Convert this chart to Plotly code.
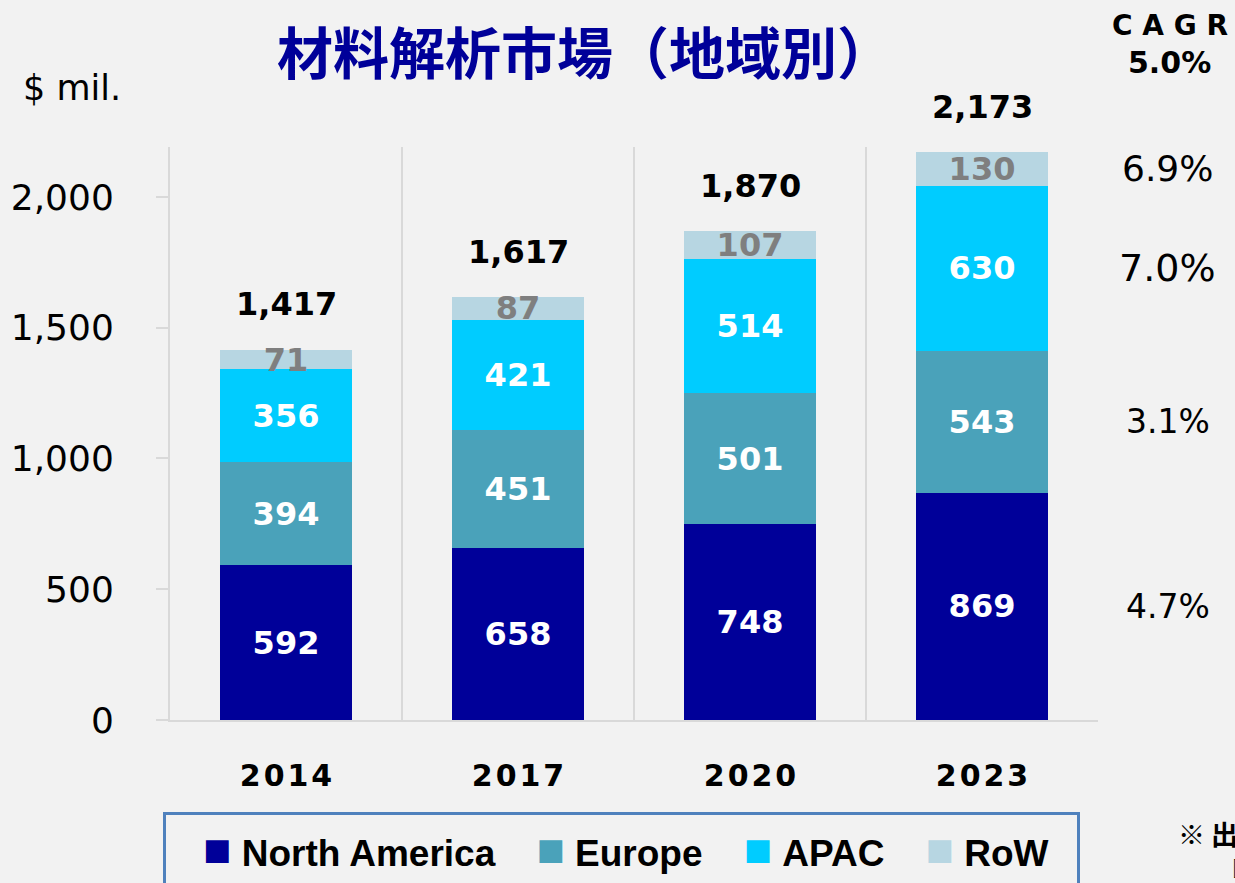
import plotly.graph_objects as go

# ---------------- data ----------------
years = ["2014", "2017", "2020", "2023"]
north_america = [592, 658, 748, 869]
europe = [394, 451, 501, 543]
apac = [356, 421, 514, 630]
row_vals = [71, 87, 107, 130]
totals = [1417, 1617, 1870, 2173]
series_names = ["North America", "Europe", "APAC", "RoW"]
cagr_by_region = ["4.7%", "3.1%", "7.0%", "6.9%"]
cagr_total = "5.0%"
y_tick_vals = [0, 500, 1000, 1500, 2000]

# ---------------- styles ----------------
series_values = [north_america, europe, apac, row_vals]
colors = ["#000099", "#4AA2BA", "#00CCFF", "#B7D6E2"]
label_colors = ["white", "white", "white", "#7F7F7F"]
cagr_sizes = [33, 33, 38, 36]
BG = "#F2F2F2"
GRID = "#D9D9D9"
NUM_FONT = "DejaVu Sans"

fig = go.Figure()
for name, vals, col, lc in zip(series_names, series_values, colors, label_colors):
    fig.add_trace(go.Bar(
        name=name, x=years, y=vals, marker=dict(color=col, line=dict(width=0)),
        text=[f"{v:,}" for v in vals], textposition="inside",
        insidetextanchor="middle", textangle=0, constraintext="none",
        textfont=dict(family=NUM_FONT, size=32, color=lc, weight="bold"),
        showlegend=False, hoverinfo="skip",
    ))

annotations = []
# totals above bars
for i, t in enumerate(totals):
    annotations.append(dict(
        x=i, y=t, xref="x", yref="y", text=f"<b>{t:,}</b>", showarrow=False,
        yanchor="middle", yshift=45,
        font=dict(family=NUM_FONT, size=32, color="black"),
    ))

# CAGR per region, aligned with 2023 segments
cum = 0
for vals, c, sz in zip(series_values, cagr_by_region, cagr_sizes):
    v = vals[-1]
    annotations.append(dict(
        x=1.0754, xref="paper", y=cum + v / 2, yref="y", text=c, showarrow=False,
        xanchor="center", yanchor="middle",
        font=dict(family=NUM_FONT, size=sz, color="black"),
    ))
    cum += v

annotations += [
    dict(x=1.0776, y=1.2129, xref="paper", yref="paper", text="<b>C A G R</b>",
         showarrow=False, xanchor="center", yanchor="middle",
         font=dict(family=NUM_FONT, size=28, color="black")),
    dict(x=1.0766, y=1.1466, xref="paper", yref="paper", text=f"<b>{cagr_total}</b>",
         showarrow=False, xanchor="center", yanchor="middle",
         font=dict(family=NUM_FONT, size=30, color="black")),
    dict(x=(72 - 170) / 928, y=1.103, xref="paper", yref="paper", text="$ mil.",
         showarrow=False, xanchor="center", yanchor="middle",
         font=dict(family=NUM_FONT, size=35, color="black")),
    dict(x=(1176 - 170) / 928, y=(720 - 833) / 573, xref="paper", yref="paper",
         text="※ <b>出典：</b>", showarrow=False, xanchor="left", yanchor="middle",
         font=dict(family="Noto Sans CJK JP", size=27, color="black")),
    dict(x=(1216 - 170) / 928, y=(720 - 871) / 573, xref="paper", yref="paper",
         text="『", showarrow=False, xanchor="left", yanchor="middle",
         font=dict(family="Noto Sans CJK JP", size=27, color="black")),
]

# legend (custom boxed row): frame + entries
nb = "\u00a0"
parts = [f'<span style="color:{c};font-size:47px">■</span>{nb}<b>{n}</b>'
         for n, c in zip(series_names, colors)]
legend_text = (nb * 4).join(parts)
annotations.append(dict(
    x=(621.5 - 170) / 928, y=(720 - 812) / 573, xref="paper", yref="paper",
    xanchor="center", yanchor="top", text="", showarrow=False,
    width=911, height=110, bordercolor="#4F81BD", borderwidth=3, borderpad=0,
))
annotations.append(dict(
    x=(626 - 170) / 928, y=(720 - 849) / 573, xref="paper", yref="paper",
    xanchor="center", yanchor="middle", text=legend_text, showarrow=False,
    font=dict(family="Liberation Sans", size=37, color="black"),
))

fig.update_layout(
    width=1235, height=883,
    barmode="stack", bargap=0.435,
    paper_bgcolor=BG, plot_bgcolor=BG,
    margin=dict(l=170, r=137, t=147, b=163),
    title=dict(text="<b>材料解析市場（地域別）</b>", x=0.4737, xanchor="center",
               y=0.938, yanchor="middle", xref="container", yref="container",
               font=dict(family="Noto Sans CJK JP", size=56, color="#000099")),
    annotations=annotations,
    showlegend=False,
)
fig.update_xaxes(
    type="category", range=[-0.5, len(years) - 0.5], autorange=False, automargin=False,
    tickson="boundaries", showgrid=True, gridcolor=GRID, gridwidth=2,
    ticks="", showline=True, linecolor=GRID, linewidth=2,
    tickvals=years, ticktext=["\u200a".join(y) for y in years],
    tickfont=dict(family=NUM_FONT, size=30, color="black", weight="bold"),
    ticklabelstandoff=28,
)
fig.update_yaxes(
    range=[0, 2191], tickvals=y_tick_vals, tickformat=",", automargin=False,
    showgrid=False, zeroline=False, showline=True, linecolor=GRID, linewidth=2,
    ticks="outside", ticklen=12, tickcolor=GRID, tickwidth=2,
    tickfont=dict(family=NUM_FONT, size=36, color="black"),
    ticklabelstandoff=35,
)

fig.write_html(
    "out.html",
    config={"displayModeBar": False},
    post_script="document.body.style.margin='0';document.body.style.padding='0';"
                "document.body.style.background='#F2F2F2';",
)
